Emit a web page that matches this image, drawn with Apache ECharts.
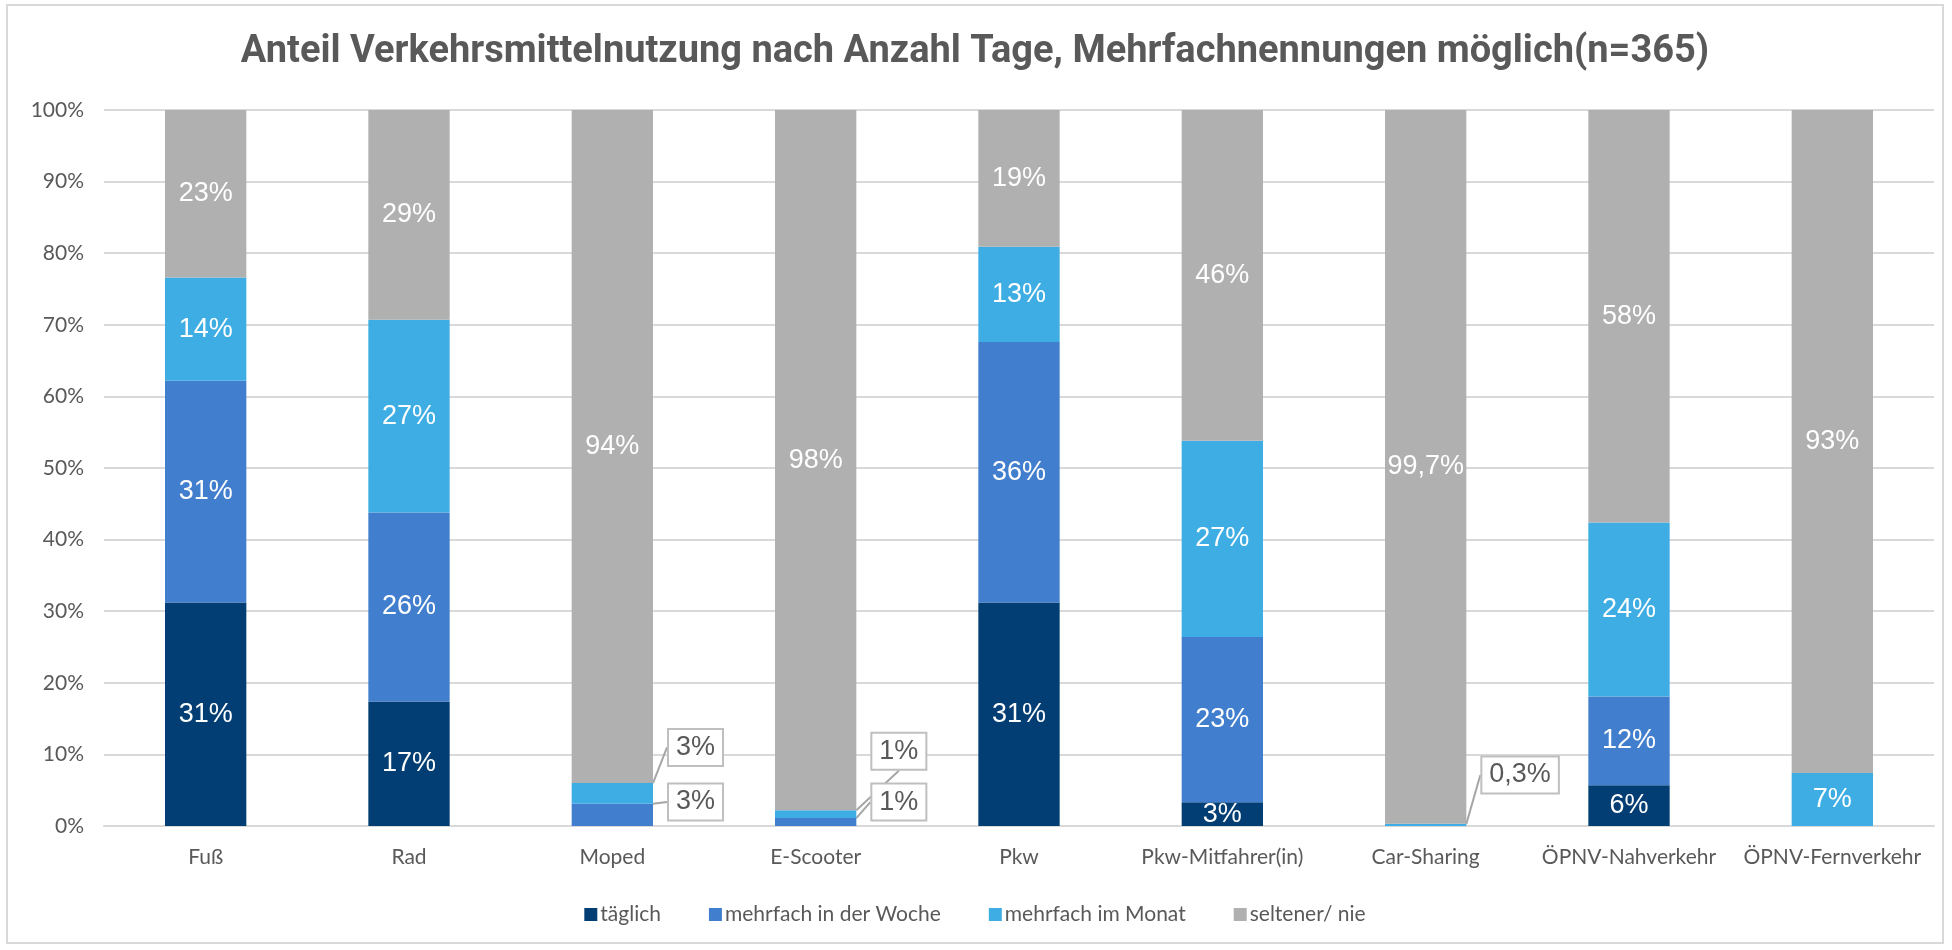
<!DOCTYPE html>
<html>
<head>
<meta charset="utf-8">
<script src="https://cdn.jsdelivr.net/npm/echarts@6/dist/echarts.min.js"></script>
<style>
  html, body { margin: 0; padding: 0; background: #fff; }
  #chart {
    position: absolute; left: 6px; top: 4px;
    width: 1938px; height: 940px;
    border: 2px solid #d9d9d9; box-sizing: border-box;
  }
</style>
</head>
<body>
<div id="chart"></div>
<script>
// Kategorien und Anteile in Prozent
const categories = ['Fuß', 'Rad', 'Moped', 'E-Scooter', 'Pkw', 'Pkw-Mitfahrer(in)', 'Car-Sharing', 'ÖPNV-Nahverkehr', 'ÖPNV-Fernverkehr'];
const seriesNames = ['täglich', 'mehrfach in der Woche', 'mehrfach im Monat', 'seltener/ nie'];
const taeglich = [31.2, 17.4, 0, 0, 31.2, 3.3, 0, 5.7, 0];
const woche = [31.0, 26.4, 3.1, 1.1, 36.4, 23.1, 0, 12.4, 0];
const monat = [14.4, 26.9, 2.9, 1.1, 13.3, 27.4, 0.3, 24.3, 7.4];
const seltener = [23.4, 29.3, 94.0, 97.8, 19.1, 46.2, 99.7, 57.6, 92.6];
const yTicks = [0, 10, 20, 30, 40, 50, 60, 70, 80, 90, 100];

const colors = ['#023e73', '#417fce', '#3eade3', '#b0b0b0'];

// kleine Werte bekommen Kasten rechts neben dem Balken (Verschiebung nach oben)
const callouts = {
  '1-2': -13, '2-2': -46,
  '1-3': -20, '2-3': -63,
  '2-6': -50,
};

const chart = echarts.init(document.getElementById('chart'));

function fmt(v) {
  if (v < 1 || v > 99) return v.toFixed(1).replace('.', ',') + '%';
  return Math.round(v) + '%';
}

function buildData(values, si) {
  return values.map((v, i) => {
    if (!v) return { value: v, label: { show: false } };
    const key = si + '-' + i;
    if (callouts[key] !== undefined) {
      return {
        value: v,
        label: {
          position: 'right',
          distance: 16,
          color: '#595959',
          backgroundColor: '#fff',
          borderColor: '#bfbfbf',
          borderWidth: 2,
          padding: [5, 7, 3, 7],
        },
        labelLine: { show: true, lineStyle: { color: '#a6a6a6', width: 2 } },
      };
    }
    return v;
  });
}

const allValues = [taeglich, woche, monat, seltener];

const option = {
  animation: false,
  title: {
    text: 'Anteil Verkehrsmittelnutzung nach Anzahl Tage, Mehrfachnennungen möglich(n=365)',
    left: 'center',
    top: 22,
    textStyle: {
      fontFamily: 'Liberation Sans Narrow, Roboto, sans-serif',
      fontWeight: 'bold',
      fontSize: 38,
      color: '#595959',
    },
  },
  legend: {
    bottom: 12,
    left: 'center',
    itemWidth: 13,
    itemHeight: 13,
    itemGap: 48,
    icon: 'rect',
    data: seriesNames,
    textStyle: { fontFamily: 'Lato, sans-serif', fontSize: 21, color: '#595959', padding: [0, 0, 0, -2] },
  },
  grid: { left: 96, right: 8, top: 104, bottom: 116 },
  xAxis: {
    type: 'category',
    data: categories,
    axisTick: { show: false },
    axisLine: { lineStyle: { color: '#d9d9d9', width: 2 } },
    axisLabel: { interval: 0, fontFamily: 'Lato, sans-serif', fontSize: 21, color: '#595959', margin: 21 },
  },
  yAxis: {
    type: 'value',
    min: yTicks[0],
    max: yTicks[yTicks.length - 1],
    interval: yTicks[1] - yTicks[0],
    axisLine: { show: false },
    axisTick: { show: false },
    splitLine: { lineStyle: { color: '#d9d9d9', width: 2 } },
    axisLabel: { formatter: '{value}%', fontFamily: 'Lato, sans-serif', fontSize: 21, color: '#595959', margin: 20 },
  },
  labelLayout(params) {
    const dy = callouts[params.seriesIndex + '-' + params.dataIndex];
    if (dy !== undefined) return { dy };
    return {};
  },
  series: allValues.map((vals, si) => ({
    name: seriesNames[si],
    type: 'bar',
    stack: 'total',
    barCategoryGap: '60%',
    itemStyle: { color: colors[si] },
    label: {
      show: true,
      position: 'inside',
      color: '#fff',
      fontFamily: 'Liberation Sans, Arial, sans-serif',
      fontSize: 27,
      formatter: (p) => fmt(p.value),
    },
    data: buildData(vals, si),
  })),
};

chart.setOption(option);
</script>
</body>
</html>
